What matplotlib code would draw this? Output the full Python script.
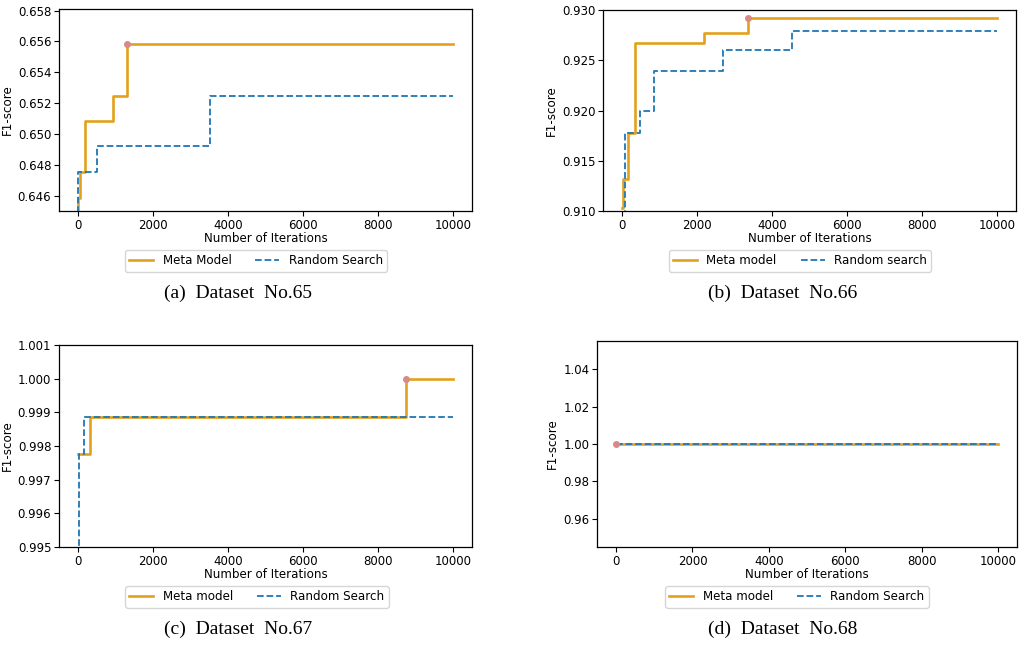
import matplotlib
matplotlib.use("Agg")
import matplotlib.pyplot as plt

# ---------------- data ----------------
a_meta_x = [0, 18, 71, 186, 932, 1313, 10000]
a_meta_y = [0.6449, 0.64585, 0.64753, 0.65085, 0.65247, 0.6558, 0.6558]
a_rand_x = [0, 4, 506, 3523, 10000]
a_rand_y = [0.6449, 0.64753, 0.64919, 0.65247, 0.65247]
a_best = (1313, 0.6558)

b_meta_x = [0, 40, 160, 355, 2181, 3351, 10000]
b_meta_y = [0.9103, 0.9132, 0.9178, 0.9267, 0.92767, 0.92924, 0.92924]
b_rand_x = [55, 89, 489, 860, 2686, 4539, 10000]
b_rand_y = [0.9095, 0.9178, 0.91997, 0.92389, 0.92598, 0.92787, 0.92787]
b_best = (3351, 0.92924)

c_meta_x = [0, 328, 8740, 10000]
c_meta_y = [0.99775, 0.99887, 1.0, 1.0]
c_rand_x = [0, 25, 169, 10000]
c_rand_y = [0.9945, 0.99775, 0.99887, 0.99887]
c_best = (8740, 1.0)

d_meta_x = [0, 10000]
d_meta_y = [1.0, 1.0]
d_rand_x = [0, 10000]
d_rand_y = [1.0, 1.0]
d_best = (0, 1.0)

legend_labels = [
    ("Meta Model", "Random Search"),
    ("Meta model", "Random search"),
    ("Meta model", "Random Search"),
    ("Meta model", "Random Search"),
]
captions = ["(a)  Dataset  No.65", "(b)  Dataset  No.66",
            "(c)  Dataset  No.67", "(d)  Dataset  No.68"]
ylims = [(0.645, 0.6581), (0.910, 0.930), (0.995, 1.001), (0.945, 1.055)]
yticks = [[0.646, 0.648, 0.650, 0.652, 0.654, 0.656, 0.658],
          [0.910, 0.915, 0.920, 0.925, 0.930],
          [0.995, 0.996, 0.997, 0.998, 0.999, 1.000, 1.001],
          [0.96, 0.98, 1.00, 1.02, 1.04]]
yfmt = ["%.3f", "%.3f", "%.3f", "%.2f"]

# ---------------- figure ----------------
W, H = 1024, 645
fig = plt.figure(figsize=(W / 100, H / 100), dpi=100)

META_C = "#E3A01B"
RAND_C = "#1f77b4"
BEST_C = "#D98A86"

# axes boxes in pixels: left, top, right, bottom
boxes = [(59, 9, 472, 211), (603, 10, 1016, 211),
         (59, 345, 472, 547), (597, 341, 1017, 547)]
legend_centers = [(256, 261), (800, 261), (257, 597), (797, 597)]
caption_centers = [(238, 293), (783, 293), (238, 629), (783, 629)]

series = [
    (a_meta_x, a_meta_y, a_rand_x, a_rand_y, a_best),
    (b_meta_x, b_meta_y, b_rand_x, b_rand_y, b_best),
    (c_meta_x, c_meta_y, c_rand_x, c_rand_y, c_best),
    (d_meta_x, d_meta_y, d_rand_x, d_rand_y, d_best),
]

FS = 8.6
for i, (mx, my, rx, ry, best) in enumerate(series):
    l, t, r, b = boxes[i]
    ax = fig.add_axes([l / W, 1 - b / H, (r - l) / W, (b - t) / H])
    lm, = ax.plot(mx, my, drawstyle="steps-post", color=META_C, lw=1.9,
                  label=legend_labels[i][0], zorder=2)
    lr, = ax.plot(rx, ry, drawstyle="steps-post", color=RAND_C, lw=1.3,
                  ls="--", label=legend_labels[i][1], zorder=3)
    ax.plot([best[0]], [best[1]], "o", color=BEST_C, ms=4, zorder=4)
    ax.set_xlim(-500, 10500)
    ax.set_ylim(*ylims[i])
    ax.set_xticks([0, 2000, 4000, 6000, 8000, 10000])
    ax.set_yticks(yticks[i])
    ax.set_yticklabels([yfmt[i] % v for v in yticks[i]])
    ax.tick_params(labelsize=8.5, length=3.5, width=0.8, pad=2)
    ax.set_xlabel("Number of Iterations", fontsize=FS, labelpad=0)
    ax.set_ylabel("F1-score", fontsize=FS, labelpad=3)
    for s in ax.spines.values():
        s.set_linewidth(0.9)
    lc = legend_centers[i]
    fig.legend(handles=[lm, lr], loc="center",
               bbox_to_anchor=(lc[0] / W, 1 - lc[1] / H), ncol=2,
               fontsize=FS, frameon=True, handlelength=2.0,
               columnspacing=2.0, borderpad=0.35)
    cc = caption_centers[i]
    fig.text(cc[0] / W, 1 - cc[1] / H, captions[i], ha="center", va="center",
             fontsize=14, family="Liberation Serif")

fig.savefig("out.png", dpi=100)
